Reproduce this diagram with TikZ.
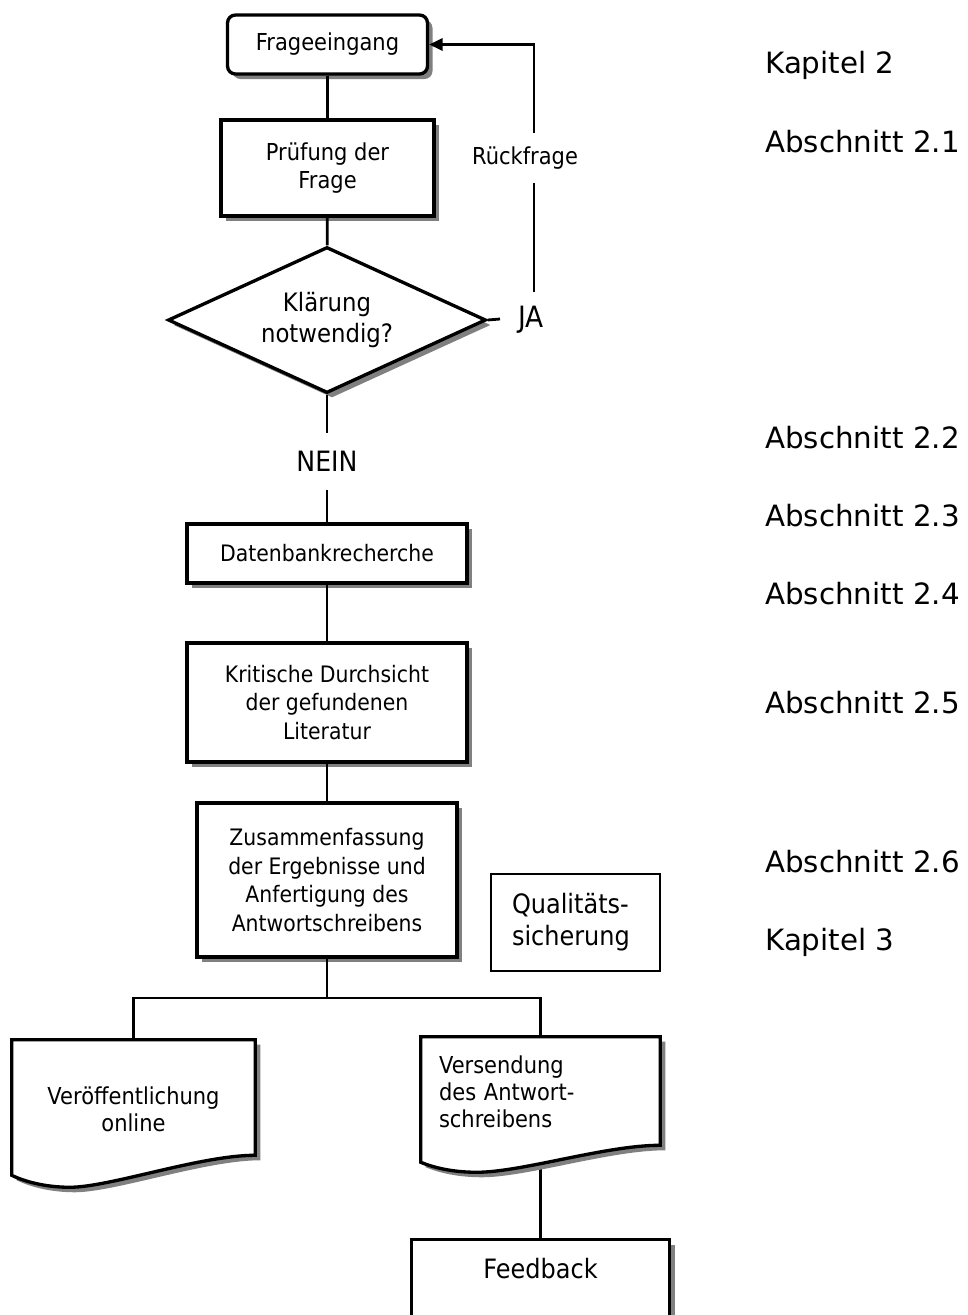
\documentclass[tikz,border=0pt]{standalone}
\usepackage{fontspec}
\setmainfont{DejaVu Sans}
\newfontfamily\nf[FakeStretch=0.9]{DejaVu Sans}
\usetikzlibrary{shapes.geometric,shadows,arrows.meta,calc}
\pgfdeclarelayer{bg}
\pgfdeclarelayer{mid}
\pgfsetlayers{bg,mid,main}
\newcommand{\fs}[2]{\fontsize{#1}{#2}\selectfont}
\begin{document}
\begin{tikzpicture}[x=0.75pt,y=-0.75pt,
  shd/.style={drop shadow={shadow xshift=3.75pt,shadow yshift=-3.75pt,fill=black!50,opacity=1}},
  boxb/.style={draw,line width=2.5pt,fill=white,shd,inner sep=0pt},
  box/.style={boxb,align=center},
  conn/.style={line width=2.1pt},
  lab/.style={inner sep=0pt,align=center},
  doc/.style={draw,line width=2.5pt,fill=white,shd,line join=miter},
  side/.style={anchor=base west,inner sep=0pt,font=\fs{22}{26}}]
\useasboundingbox (0,0) rectangle (968,1315);
\clip (0,0) rectangle (968,1315);

% flow nodes
\node[box,rounded corners=6pt,minimum width=150pt,minimum height=44.25pt,font=\nf\fs{17.5}{20}] (frage) at (327.5,44.5) {Frageeingang};
\node[box,minimum width=159.75pt,minimum height=72pt,font=\nf\fs{17.5}{21.5}] (pruef) at (327.5,168) {Prüfung der\\Frage};
\node[box,diamond,aspect=2.18,minimum width=238.5pt,minimum height=109.5pt,font=\nf\fs{19}{23.5}] (klaer) at (327,320) {Klärung\\notwendig?};
\node[lab,font=\nf\fs{17.5}{20},minimum height=37.5pt] (rueck) at (525,158) {Rückfrage};
\node[lab,font=\nf\fs{22}{26}] (ja) at (531,320) {JA};
\coordinate (jatop) at (534,292);
\coordinate (jastub) at (500,319);
\node[lab,font=\nf\fs{21}{25},minimum height=42.75pt] (nein) at (327,461.5) {NEIN};
\node[box,minimum width=210pt,minimum height=44.25pt,font=\nf\fs{17}{21}] (daten) at (327,553.5) {Datenbankrecherche};
\node[box,minimum width=210pt,minimum height=89.25pt,font=\nf\fs{17}{21.4}] (krit) at (327,702.5) {Kritische Durchsicht\\der gefundenen\\Literatur};
\node[box,minimum width=195pt,minimum height=115.5pt,font=\nf\fs{17}{21.4}] (zus) at (327,880) {Zusammenfassung\\der Ergebnisse und\\Anfertigung des\\Antwortschreibens};
\node[draw,line width=1.4pt,fill=white,minimum width=126.75pt,minimum height=72.75pt,inner xsep=15.75pt,inner ysep=0pt,text width=95.25pt,align=left,font=\nf\fs{20}{24}] (qual) at (575.5,922.5) {Qualitäts-\\sicherung};
\coordinate (branch) at (327,998);
\node[lab,minimum width=182.25pt,minimum height=103.5pt,font=\nf\fs{17.5}{20.5}] (veroeff) at (133.5,1109) {Veröffentlichung\\online};
\node[inner ysep=0pt,inner xsep=13.5pt,minimum width=179.25pt,minimum height=82.5pt,text width=152.25pt,align=left,font=\nf\fs{17.5}{20.25}] (versend) at (540.5,1092) {Versendung\\des Antwort-\\schreibens};
\node[boxb,anchor=north,minimum width=193.5pt,font=\nf\fs{20}{24},text height=15pt,text depth=60pt,inner ysep=14pt] (feed) at (540.5,1238) {Feedback};

% document shapes
\begin{pgfonlayer}{mid}
\path[doc] (veroeff.north west) -- (veroeff.north east) -- ($(veroeff.south east)+(0,-23)$)
  .. controls +(-55,0) and +(40,0) .. ($(veroeff.south west)+(58,9)$)
  .. controls +(-25,0) and +(12,6) .. ($(veroeff.south west)+(0,-3)$) -- cycle;
\path[doc] (versend.north west) -- (versend.north east) -- ($(versend.south east)+(0,-2)$)
  .. controls +(-55,0) and +(45,0) .. ($(versend.south west)+(56,25)$)
  .. controls +(-25,0) and +(12,5) .. ($(versend.south west)+(0,15)$) -- cycle;
\end{pgfonlayer}

% connectors
\begin{pgfonlayer}{bg}
\draw[conn] (versend.south) -- (feed.north);
\end{pgfonlayer}
\draw[conn] (frage) -- (pruef);
\draw[conn] (pruef) -- (klaer);
\draw[conn] (klaer) -- (nein);
\draw[conn] (nein) -- (daten);
\draw[conn] (daten) -- (krit);
\draw[conn] (krit) -- (zus);
\draw[conn] (zus.south) -- (branch);
\draw[conn] (veroeff.north) |- (branch) -| (versend.north);
\draw[conn] (klaer.east) -- (jastub);
\draw[conn] (jatop) -- (jatop |- rueck.south);
\draw[conn,-{Triangle[length=10pt,width=9pt]}] (jatop |- rueck.north) |- (frage.east);

% side labels
\node[side] (k2) at (765,73) {Kapitel 2};
\node[side] (a21) at (765,152) {Abschnitt 2.1};
\node[side] (a22) at (765,448) {Abschnitt 2.2};
\node[side] (a23) at (765,526) {Abschnitt 2.3};
\node[side] (a24) at (765,604) {Abschnitt 2.4};
\node[side] (a25) at (765,713) {Abschnitt 2.5};
\node[side] (a26) at (765,872) {Abschnitt 2.6};
\node[side] (k3) at (765,950) {Kapitel 3};
\end{tikzpicture}
\end{document}
